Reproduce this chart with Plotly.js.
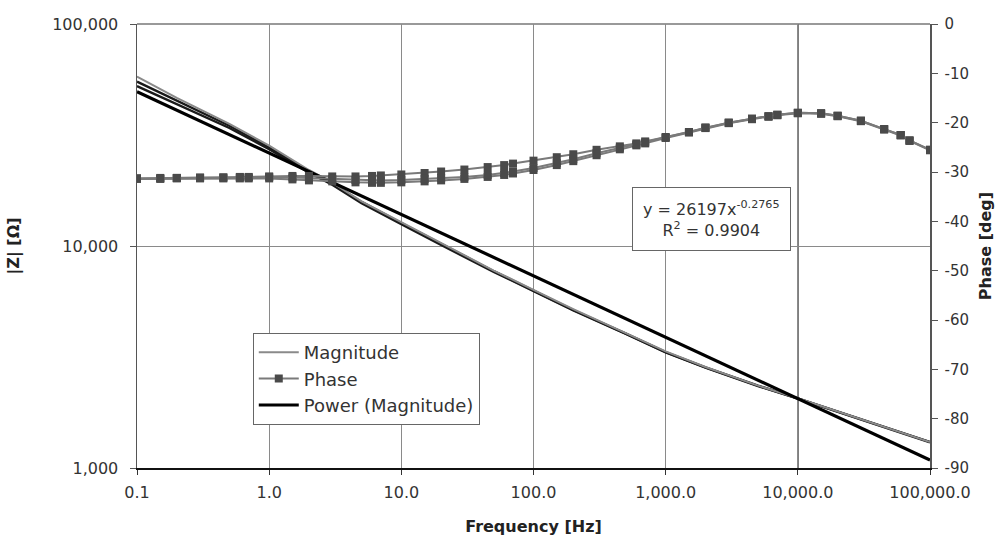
<!DOCTYPE html>
<html>
<head>
<meta charset="utf-8">
<script src="https://cdn.plot.ly/plotly-3.0.1.min.js"></script>
<style>html,body{margin:0;padding:0;background:#fff;}#chart{width:1007px;height:547px;}</style>
</head>
<body>
<div id="chart"></div>
<script>
// Magnitude data (Hz, Ohm)
const freqM = [0.1, 0.2, 0.5, 1, 2, 3, 5, 10, 20, 50, 100, 200, 500, 1000, 2000, 5000, 10000, 20000, 50000, 100000];
const magA = [58000, 46500, 35500, 28300, 22000, 19300, 15900, 12800, 10300, 7750, 6350, 5200, 4050, 3350, 2850, 2350, 2060, 1800, 1500, 1310];
const magB = [55000, 45000, 34800, 27800, 21700, 19100, 15800, 12700, 10200, 7700, 6300, 5150, 4030, 3330, 2840, 2350, 2060, 1800, 1500, 1310];
const magC = [52500, 43500, 34000, 27300, 21400, 18900, 15600, 12550, 10100, 7650, 6280, 5130, 4020, 3320, 2830, 2340, 2055, 1795, 1495, 1305];

// Phase data (Hz, deg)
const freqP = [0.1, 0.15, 0.2, 0.3, 0.45, 0.6, 0.7, 1, 1.5, 2, 3, 4.5, 6, 7, 10, 15, 20, 30, 45, 60, 70, 100, 150, 200, 300, 450, 600, 700, 1000, 1500, 2000, 3000, 4500, 6000, 7000, 10000, 15000, 20000, 30000, 45000, 60000, 70000, 100000];
const phaseA = [-31.3,-31.3,-31.2,-31.2,-31.1,-31.1,-31.1,-31.0,-31.1,-31.2,-31.4,-31.6,-31.7,-31.7,-31.6,-31.4,-31.2,-31.0,-30.6,-30.2,-29.9,-29.2,-28.2,-27.4,-26.2,-25.1,-24.4,-24.0,-23.0,-21.9,-21.0,-20.0,-19.2,-18.7,-18.4,-18.0,-18.1,-18.6,-19.6,-21.3,-22.5,-23.6,-25.5];
const phaseB = [-31.3,-31.2,-31.2,-31.1,-31.1,-31.0,-31.0,-30.9,-30.8,-30.8,-30.9,-30.9,-30.8,-30.7,-30.5,-30.2,-29.9,-29.5,-29.0,-28.6,-28.3,-27.7,-27.0,-26.4,-25.5,-24.8,-24.2,-23.8,-22.9,-21.9,-21.0,-20.0,-19.2,-18.7,-18.4,-18.0,-18.1,-18.6,-19.6,-21.3,-22.5,-23.6,-25.5];
const phaseC = [-31.4,-31.4,-31.3,-31.3,-31.3,-31.3,-31.3,-31.3,-31.5,-31.7,-31.9,-32.1,-32.2,-32.2,-32.1,-31.9,-31.7,-31.4,-31.0,-30.6,-30.3,-29.6,-28.6,-27.8,-26.6,-25.4,-24.6,-24.2,-23.1,-22.0,-21.1,-20.1,-19.3,-18.8,-18.5,-18.1,-18.2,-18.7,-19.7,-21.4,-22.6,-23.7,-25.6];

// Power trendline endpoints
const fitX = [0.1, 100000];
const fitY = [49570, 1086];

// Tick labels
const xTickVals = [0.1, 1, 10, 100, 1000, 10000, 100000];
const xTickText = ["0.1", "1.0", "10.0", "100.0", "1,000.0", "10,000.0", "100,000.0"];
const yTickVals = [1000, 10000, 100000];
const yTickText = ["1,000", "10,000", "100,000"];
const y2TickVals = [0, -10, -20, -30, -40, -50, -60, -70, -80, -90];
const y2TickText = ["0", "-10", "-20", "-30", "-40", "-50", "-60", "-70", "-80", "-90"];

const FONT = "DejaVu Sans, Liberation Sans, Arial, sans-serif";
const magLegLine = {color: "#8a8a8a", width: 2};
const magLine = {color: "#1a1a1a", width: 2.4};
const phLine = {color: "#7a7a7a", width: 2};
const phMarker = {symbol: "square", size: 8, color: "#4a4a4a"};

const traces = [
  {x: freqM, y: magB, type: "scatter", mode: "lines", showlegend: false, line: magLine},
  {x: freqM, y: magC, type: "scatter", mode: "lines", showlegend: false, line: magLine},
  {x: freqM, y: magA, type: "scatter", mode: "lines", name: "Magnitude", line: magLegLine, legendrank: 1},
  {x: fitX, y: fitY, type: "scatter", mode: "lines", name: "Power (Magnitude)", line: {color: "#000", width: 3.2}, legendrank: 3},
  {x: freqP, y: phaseB, type: "scatter", mode: "lines+markers", showlegend: false, yaxis: "y2", line: phLine, marker: phMarker},
  {x: freqP, y: phaseC, type: "scatter", mode: "lines+markers", showlegend: false, yaxis: "y2", line: phLine, marker: phMarker},
  {x: freqP, y: phaseA, type: "scatter", mode: "lines+markers", name: "Phase", yaxis: "y2", line: phLine, marker: phMarker, legendrank: 2}
];

const layout = {
  width: 1007, height: 547,
  margin: {l: 137, r: 77, t: 24, b: 79},
  paper_bgcolor: "#fff", plot_bgcolor: "#fff",
  font: {family: FONT, size: 15, color: "#333"},
  showlegend: true,
  legend: {
    x: 0.146, y: 0.304, xanchor: "left", yanchor: "top",
    bgcolor: "#fff", bordercolor: "#666", borderwidth: 1,
    font: {family: FONT, size: 18, color: "#333"},
    traceorder: "normal", tracegroupgap: 0, itemwidth: 40
  },
  xaxis: {
    type: "log", range: [-1, 5],
    tickvals: xTickVals, ticktext: xTickText,
    showgrid: true, gridcolor: "#8a8a8a", gridwidth: 1,
    showline: true, linecolor: "#111", linewidth: 2, mirror: false,
    ticks: "outside", ticklen: 5, tickcolor: "#333",
    ticklabelstandoff: 4,
    zeroline: false,
    tickfont: {family: FONT, size: 16, color: "#333"},
    title: {text: "<b>Frequency [Hz]</b>", font: {family: FONT, size: 16, color: "#222"}, standoff: 20}
  },
  yaxis: {
    type: "log", range: [3, 5],
    tickvals: yTickVals, ticktext: yTickText,
    showgrid: true, gridcolor: "#8a8a8a", gridwidth: 1,
    showline: true, linecolor: "#555", linewidth: 1.5,
    ticks: "outside", ticklen: 6, tickcolor: "#555",
    ticklabelstandoff: 8,
    zeroline: false,
    tickfont: {family: FONT, size: 16, color: "#333"},
    title: {text: "<b>|Z| [Ω]</b>", font: {family: FONT, size: 16, color: "#222"}, standoff: 28}
  },
  yaxis2: {
    overlaying: "y", side: "right", range: [-90, 0],
    tickvals: y2TickVals, ticktext: y2TickText,
    showgrid: false, zeroline: false,
    showline: true, linecolor: "#555", linewidth: 1.5,
    ticks: "outside", ticklen: 6, tickcolor: "#555",
    ticklabelstandoff: 4,
    tickfont: {family: FONT, size: 15, color: "#333"},
    title: {text: "<b>Phase [deg]</b>", font: {family: FONT, size: 16, color: "#222"}, standoff: 12}
  },
  shapes: [
    {type: "line", xref: "x", yref: "paper", x0: 10000, x1: 10000, y0: 0, y1: 1, line: {color: "#222", width: 1.5}, layer: "below"},
    {type: "line", xref: "paper", yref: "paper", x0: 0, x1: 1, y0: 1, y1: 1, line: {color: "#777", width: 1.5}, layer: "below"}
  ],
  annotations: [{
    xref: "paper", yref: "paper", x: 0.725, y: 0.561, xanchor: "center", yanchor: "middle",
    text: "y = 26197x<sup>-0.2765</sup><br>R<sup>2</sup> = 0.9904",
    showarrow: false, align: "center",
    bgcolor: "#fff", bordercolor: "#666", borderwidth: 1, borderpad: 10,
    font: {family: FONT, size: 16, color: "#333"}
  }]
};

Plotly.newPlot("chart", traces, layout, {displayModeBar: false, staticPlot: true});
</script>
</body>
</html>
